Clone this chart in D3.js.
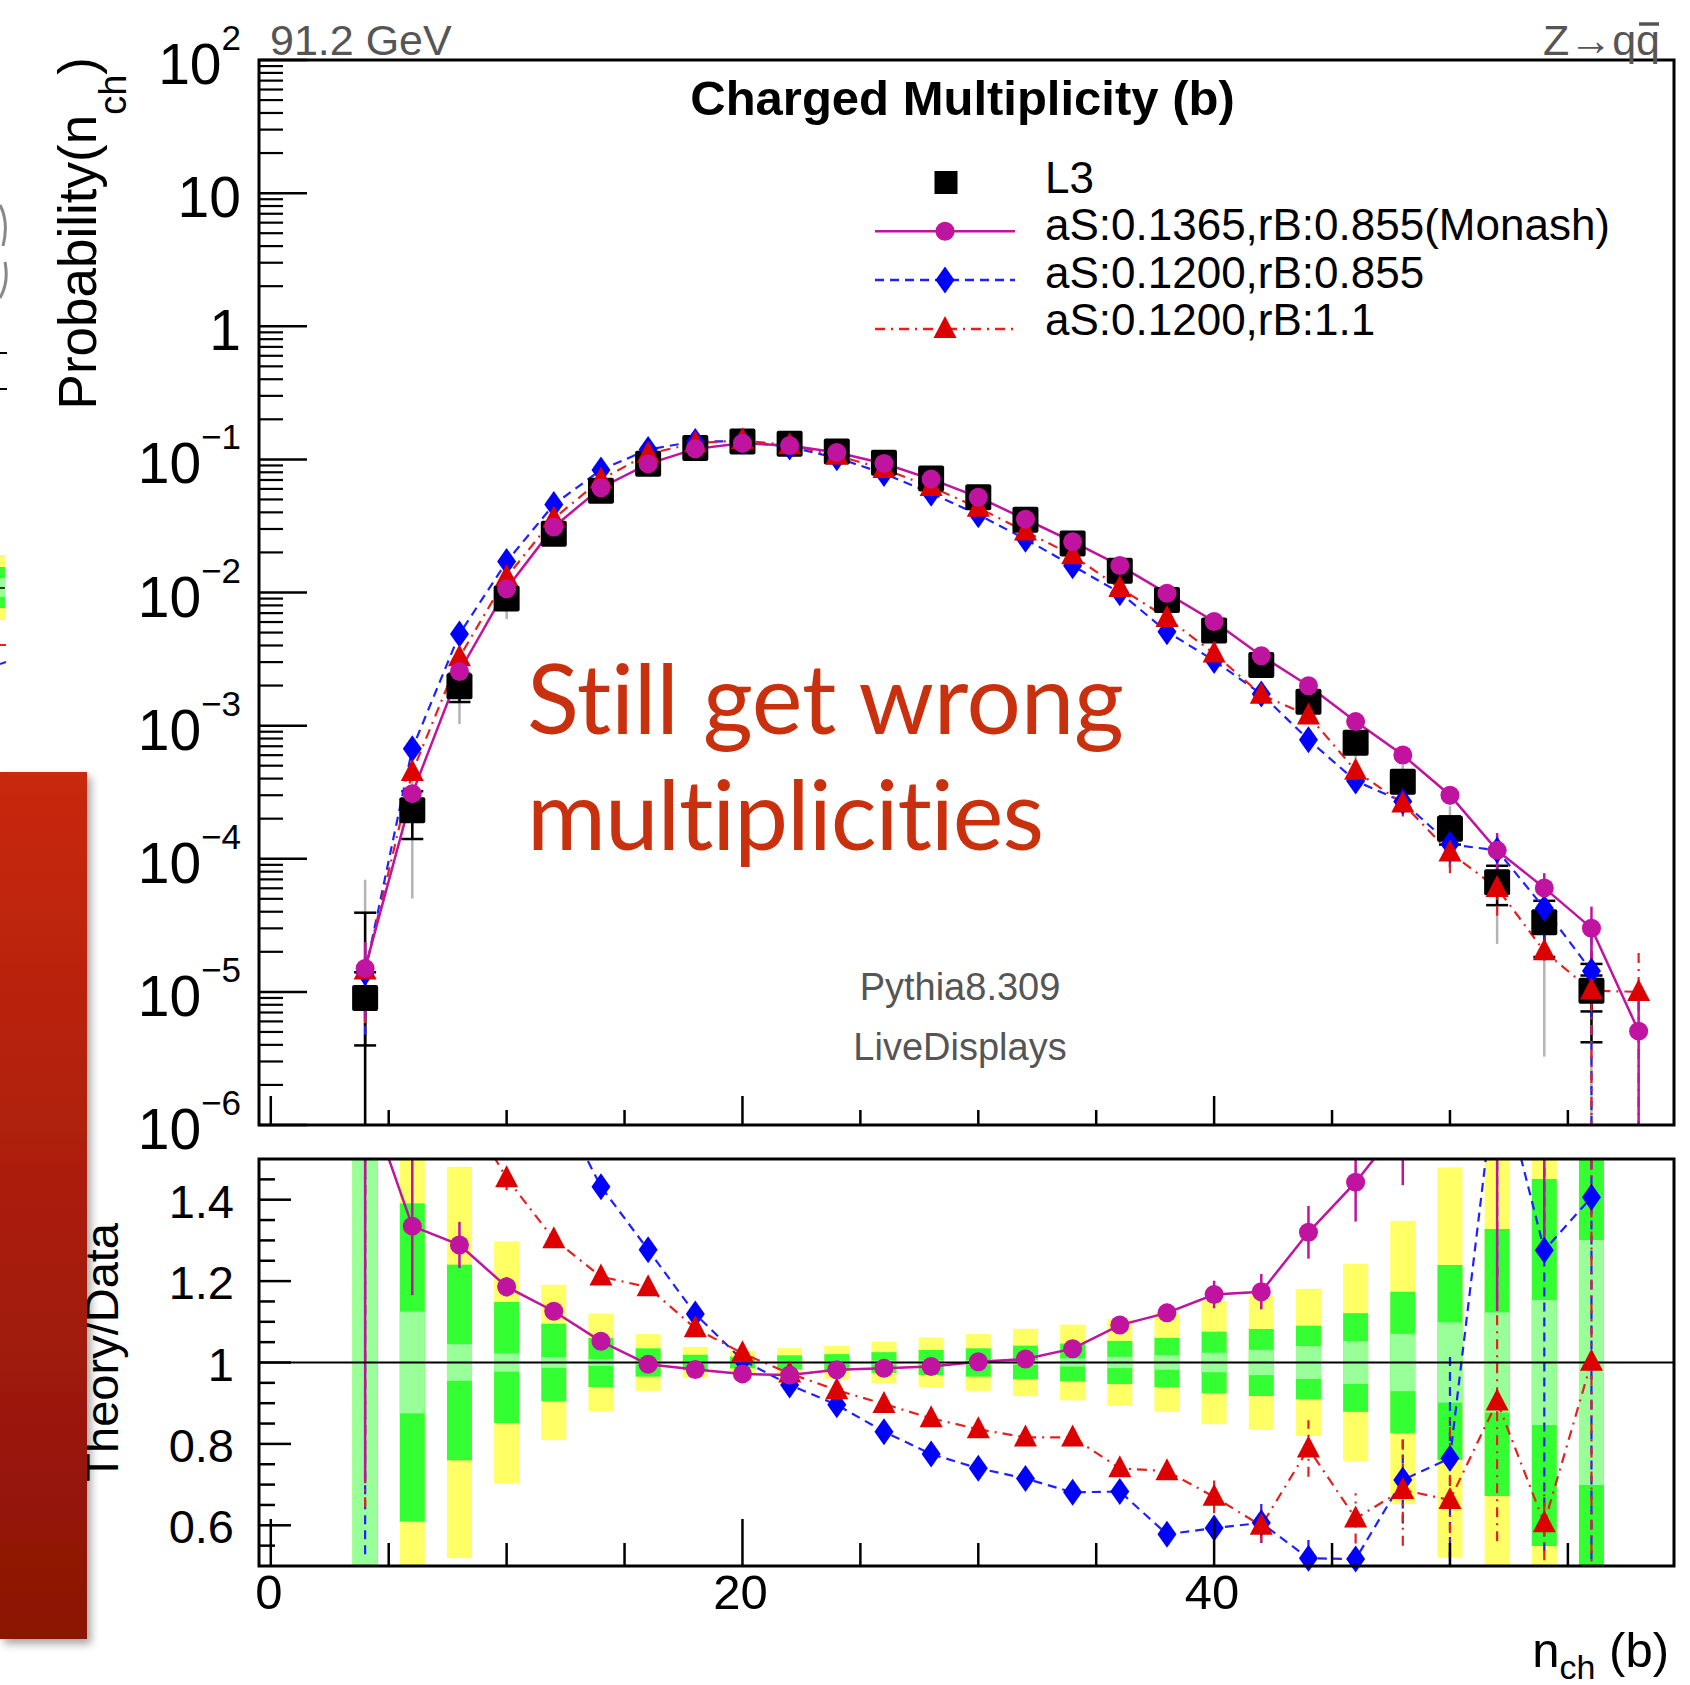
<!DOCTYPE html>
<html><head><meta charset="utf-8">
<script src="https://cdn.jsdelivr.net/npm/d3@7"></script>
<style>body{margin:0;background:#fff;} svg{display:block;font-family:"Liberation Sans",Arial,Helvetica,sans-serif;} .noliga{font-variant-ligatures:none;font-feature-settings:"liga" 0,"clig" 0;}</style>
</head><body>
<svg id="c" width="1690" height="1685"></svg>
<script>
// ---------------- data ----------------
const nch = [4,6,8,10,12,14,16,18,20,22,24,26,28,30,32,34,36,38,40,42,44,46,48,50,52,54,56];
const dataL3 = [9.0e-6,2.31e-4,1.98e-3,9.0e-3,0.0276,0.0582,0.0929,0.122,0.136,0.131,0.1146,0.0944,0.0718,0.0519,0.0352,0.0233,0.01459,0.00879,0.00519,0.00285,0.00151,7.43e-4,3.78e-4,1.68e-4,6.67e-5,3.33e-5,1.02e-5];
const dataStatRel = [0.56,0.125,0.045,0.0225,0.0131,0.0086,0.005,0.004,0.004,0.004,0.004,0.005,0.005,0.005,0.006,0.01,0.014,0.018,0.024,0.031,0.0405,0.0528,0.0704,0.0987,0.123,0.1536,0.301];
const dataTotRel = [3.37,0.391,0.2404,0.1487,0.0954,0.0602,0.0348,0.019,0.0143,0.0176,0.0205,0.0254,0.0307,0.0348,0.0414,0.0465,0.053,0.0606,0.0758,0.0823,0.0905,0.1212,0.174,0.2396,0.328,0.451,0.59];

const nchMC = [4,6,8,10,12,14,16,18,20,22,24,26,28,30,32,34,36,38,40,42,44,46,48,50,52,54,56,58];
const monashMC = [1.50e-5,3.084e-4,2.552e-3,0.010674,0.031078,0.061226,0.092482,0.119926,0.132192,0.126939,0.112537,0.093078,0.071082,0.052004,0.035503,0.024092,0.015932,0.009862,0.006057,0.003346,0.001993,1.0721e-3,6.01e-4,3.0e-4,1.156e-4,6.04e-5,3.01e-5,5.07e-6];
const monashErrRel = [0.577,0.127,0.044,0.02,0.012,0.008,0.005,0.004,0.004,0.004,0.004,0.005,0.005,0.006,0.007,0.009,0.012,0.02,0.029,0.037,0.049,0.067,0.097,0.15,0.35,0.29,0.45,1.0];
const blueMC = [1.4e-5,6.71e-4,4.88e-3,0.01706,0.0458,0.083342,0.118633,0.136518,0.136816,0.123795,0.102682,0.078352,0.055645,0.038406,0.025168,0.015867,0.009965,0.005081,0.003078,0.001727,7.837e-4,3.841e-4,2.688e-4,1.285e-4,1.156e-4,4.249e-5,1.434e-5,null];
const blueErrRel = [0.66,0.1,0.04,0.02,0.012,0.008,0.005,0.004,0.004,0.005,0.005,0.006,0.007,0.008,0.01,0.012,0.015,0.02,0.041,0.082,0.087,0.06,0.15,0.33,0.3,0.58,1.0,null];
const redMC = [1.45e-5,4.48e-4,3.27e-3,0.013073,0.035963,0.07048,0.110087,0.132248,0.13906,0.127463,0.106807,0.084771,0.061963,0.043388,0.028723,0.019013,0.010797,0.006443,0.003477,0.001707,0.001191,4.584e-4,2.597e-4,1.112e-4,6.03e-5,2.015e-5,1.022e-5,1.0e-5];
const redErrRel = [0.6,0.1,0.04,0.02,0.012,0.008,0.005,0.004,0.004,0.005,0.005,0.006,0.007,0.008,0.01,0.012,0.015,0.02,0.06,0.067,0.088,0.1,0.2,0.3,0.38,0.15,1.0,1.0];

const legendLabels = ["L3","aS:0.1365,rB:0.855(Monash)","aS:0.1200,rB:0.855","aS:0.1200,rB:1.1"];
const xMajorTicks = [0,20,40];
const xMinorTicks = [5,10,15,25,30,35,45,50,55];
const yMajorTicksU = [1e-6,1e-5,1e-4,1e-3,1e-2,1e-1,1,10,100];
const ratioMajorTicks = [0.6,0.8,1,1.2,1.4];
const ratioMajorLabels = ["0.6","0.8","1","1.2","1.4"];

// ---------------- layout ----------------
const X0=259, X1=1674, UT=60, UB=1125, LT=1159, LB=1566;
const x = d3.scaleLinear().domain([-0.5,59.5]).range([X0,X1]);
const yU = d3.scaleLog().domain([1e-6,1e2]).range([UB,UT]);
const yL = d3.scaleLinear().domain([0.5,1.5]).range([LB,LT]);
const yUc = v => (v>0 ? yU(Math.max(v,1e-9)) : UB+30);

const svg = d3.select('#c');
const defs = svg.append('defs');
defs.append('clipPath').attr('id','clipU').append('rect').attr('x',X0).attr('y',UT).attr('width',X1-X0).attr('height',UB-UT);
defs.append('clipPath').attr('id','clipL').append('rect').attr('x',X0).attr('y',LT).attr('width',X1-X0).attr('height',LB-LT);
const grad = defs.append('linearGradient').attr('id','redgrad').attr('x1',0).attr('y1',0).attr('x2',0).attr('y2',1);
grad.append('stop').attr('offset','0%').attr('stop-color','#c8290b');
grad.append('stop').attr('offset','100%').attr('stop-color','#8b1306');
const flt = defs.append('filter').attr('id','shadow').attr('x','-30%').attr('y','-10%').attr('width','160%').attr('height','120%');
flt.append('feDropShadow').attr('dx',4).attr('dy',5).attr('stdDeviation',4).attr('flood-color','#000').attr('flood-opacity',0.35);

const series = [
  {name:legendLabels[2], vals:blueMC, errs:blueErrRel, color:'#0000ff', line:'#2020ff', dash:'9,6', marker:'diamond', lw:2.2},
  {name:legendLabels[3], vals:redMC, errs:redErrRel, color:'#dd0000', line:'#e52020', dash:'10,6,2,6', marker:'triangle', lw:2.2},
  {name:legendLabels[1], vals:monashMC, errs:monashErrRel, color:'#c0139f', line:'#c0139f', dash:null, marker:'circle', lw:2.5}
];
function drawMarker(g, type, color, cx, cy){
  if(type==='circle') g.append('circle').attr('cx',cx).attr('cy',cy).attr('r',9.5).attr('fill',color);
  else if(type==='diamond') g.append('path').attr('d','M0,-13.5L9.5,0L0,13.5L-9.5,0Z').attr('transform',`translate(${cx},${cy})`).attr('fill',color);
  else if(type==='triangle') g.append('path').attr('d','M0,-13L11.5,9L-11.5,9Z').attr('transform',`translate(${cx},${cy})`).attr('fill',color);
  else if(type==='square') g.append('rect').attr('x',cx-13).attr('y',cy-13).attr('width',26).attr('height',26).attr('rx',2).attr('fill',color);
}

// ---------------- left-edge remnants of neighbouring slide element ----------------
const rem = svg.append('g');
rem.append('line').attr('x1',0).attr('x2',7).attr('y1',353).attr('y2',353).attr('stroke','#000').attr('stroke-width',2);
rem.append('line').attr('x1',0).attr('x2',7).attr('y1',389).attr('y2',389).attr('stroke','#000').attr('stroke-width',2);
rem.append('path').attr('d','M0,205 Q9,222 3,246 M5,262 Q9,282 0,298').attr('stroke','#888').attr('stroke-width',3).attr('fill','none');
rem.append('rect').attr('x',0).attr('y',555).attr('width',5).attr('height',65).attr('fill','#ffff66');
rem.append('rect').attr('x',0).attr('y',567).attr('width',5).attr('height',41).attr('fill','#33ff33');
rem.append('rect').attr('x',0).attr('y',578).attr('width',5).attr('height',19).attr('fill','#99ff99');
rem.append('line').attr('x1',0).attr('x2',5).attr('y1',588).attr('y2',588).attr('stroke','#000').attr('stroke-width',1.5);
rem.append('line').attr('x1',0).attr('x2',6).attr('y1',645).attr('y2',645).attr('stroke','#e52020').attr('stroke-width',2);
rem.append('line').attr('x1',0).attr('x2',6).attr('y1',664).attr('y2',662).attr('stroke','#2020ff').attr('stroke-width',2);

// ---------------- upper pad ----------------
const dat = nch.map((n,i)=>({n, v:dataL3[i], s:dataStatRel[i], t:dataTotRel[i]}));
const gU = svg.append('g');
const gUc = gU.append('g').attr('clip-path','url(#clipU)');
gUc.selectAll('line.grey').data(dat).join('line').attr('class','grey')
  .attr('x1',d=>x(d.n)).attr('x2',d=>x(d.n))
  .attr('y1',d=>yUc(d.v*(1-2*d.t))).attr('y2',d=>yUc(d.v*(1+2*d.t)))
  .attr('stroke','#b4b4b4').attr('stroke-width',2.5);
function blackBar(rel){
  dat.forEach(d=>{
    const lo=d.v*(1-d[rel]), hi=d.v*(1+d[rel]), cx=x(d.n);
    gUc.append('line').attr('x1',cx).attr('x2',cx).attr('y1',yUc(lo)).attr('y2',yUc(hi)).attr('stroke','#000').attr('stroke-width',2.5);
    [lo,hi].forEach(e=>{ if(e>0) gUc.append('line').attr('x1',cx-11).attr('x2',cx+11).attr('y1',yU(e)).attr('y2',yU(e)).attr('stroke','#000').attr('stroke-width',2.5);});
  });
}
blackBar('t'); blackBar('s');
dat.forEach(d=>drawMarker(gU,'square','#000',x(d.n),yU(d.v)));
series.forEach(s=>{
  const pts = nchMC.map((n,i)=>({n, v:s.vals[i], e:s.errs[i]})).filter(p=>p.v!=null);
  const line = d3.line().x(p=>x(p.n)).y(p=>yU(p.v));
  gUc.append('path').attr('d',line(pts)).attr('fill','none').attr('stroke',s.line).attr('stroke-width',s.lw).attr('stroke-dasharray',s.dash);
  pts.forEach(p=>{
    gUc.append('line').attr('x1',x(p.n)).attr('x2',x(p.n)).attr('y1',yUc(p.v*(1-p.e))).attr('y2',yUc(p.v*(1+p.e)))
      .attr('stroke',s.line).attr('stroke-width',s.lw).attr('stroke-dasharray',s.dash);
  });
});
series.forEach(s=>{
  nchMC.forEach((n,i)=>{ if(s.vals[i]!=null) drawMarker(gU,s.marker,s.color,x(n),yU(s.vals[i])); });
});
gU.append('rect').attr('x',X0).attr('y',UT).attr('width',X1-X0).attr('height',UB-UT).attr('fill','none').attr('stroke','#000').attr('stroke-width',3);
const yMinorU = [];
for(let e=-6;e<2;e++) for(let k=2;k<=9;k++) yMinorU.push(k*Math.pow(10,e));
gU.selectAll('line.ymaj').data(yMajorTicksU).join('line').attr('x1',X0).attr('x2',X0+48).attr('y1',d=>yU(d)).attr('y2',d=>yU(d)).attr('stroke','#000').attr('stroke-width',2.5);
gU.selectAll('line.ymin').data(yMinorU).join('line').attr('x1',X0).attr('x2',X0+24).attr('y1',d=>yU(d)).attr('y2',d=>yU(d)).attr('stroke','#000').attr('stroke-width',2.2);
gU.selectAll('line.xmaj').data(xMajorTicks).join('line').attr('x1',d=>x(d)).attr('x2',d=>x(d)).attr('y1',UB).attr('y2',UB-29).attr('stroke','#000').attr('stroke-width',2.5);
gU.selectAll('line.xmin').data(xMinorTicks).join('line').attr('x1',d=>x(d)).attr('x2',d=>x(d)).attr('y1',UB).attr('y2',UB-15).attr('stroke','#000').attr('stroke-width',2.5);
yMajorTicksU.forEach(v=>{
  const e = Math.round(Math.log10(v));
  const t = gU.append('text').attr('x',241).attr('y',yU(v)+24).attr('text-anchor','end').attr('font-size',57).attr('fill','#000');
  if(e===0) t.text('1');
  else if(e===1) t.text('10');
  else { t.append('tspan').text('10'); t.append('tspan').attr('font-size',35).attr('dy',-34).text(e<0?'\u2212'+(-e):String(e)); }
});
const yt = gU.append('text').attr('transform','translate(96,57) rotate(-90)').attr('text-anchor','end').attr('font-size',53).attr('fill','#000');
yt.append('tspan').text('Probability(n');
yt.append('tspan').attr('font-size',38).attr('dy',30).text('ch');
yt.append('tspan').attr('dy',-30).text(')');
svg.append('text').attr('x',270).attr('y',55).attr('font-size',43).attr('fill','#555').text('91.2 GeV');
const zt = svg.append('text').attr('x',1660).attr('y',55).attr('text-anchor','end').attr('font-size',43).attr('fill','#555').text('Z\u2192qq');
try{ const b=zt.node().getExtentOfChar(3); svg.append('line').attr('x1',b.x+3).attr('x2',b.x+b.width-1).attr('y1',24).attr('y2',24).attr('stroke','#555').attr('stroke-width',3.5);}catch(e){}
svg.append('text').attr('x',(X0+X1)/2-4).attr('y',115).attr('text-anchor','middle').attr('font-size',49).attr('font-weight','bold').attr('fill','#000').text('Charged Multiplicity (b)');
const legSym = ['square','circle','diamond','triangle'];
const legCol = ['#000','#c0139f','#0000ff','#dd0000'];
const legLine = [null,'#c0139f','#2020ff','#e52020'];
const legDash = [null,null,'9,6','10,6,2,6'];
legendLabels.forEach((lab,i)=>{
  const cy = 182.5 + i*48.8;
  if(legLine[i]) svg.append('line').attr('x1',875).attr('x2',1015).attr('y1',cy).attr('y2',cy).attr('stroke',legLine[i]).attr('stroke-width',2.5).attr('stroke-dasharray',legDash[i]);
  if(i===0) svg.append('rect').attr('x',946-11.5).attr('y',cy-11.5).attr('width',23).attr('height',23).attr('fill','#000');
  else drawMarker(svg,legSym[i],legCol[i],945,cy);
  svg.append('text').attr('x',1045).attr('y',193+i*47.3).attr('font-size',44).attr('fill','#000').text(lab);
});
const ann = svg.append('g').attr('class','noliga').attr('font-family','Lato, "Open Sans", sans-serif').attr('fill','#c8300e').attr('font-size',96);
ann.append('text').attr('x',527).attr('y',734).attr('textLength',597).text('Still get wrong');
ann.append('text').attr('x',527).attr('y',850).attr('textLength',517).text('multiplicities');
svg.append('text').attr('x',960).attr('y',1000).attr('text-anchor','middle').attr('font-size',38).attr('fill','#555').text('Pythia8.309');
svg.append('text').attr('x',960).attr('y',1060).attr('text-anchor','middle').attr('font-size',38).attr('fill','#555').text('LiveDisplays');

// ---------------- lower (ratio) pad ----------------
const gL = svg.append('g');
const gLc = gL.append('g').attr('clip-path','url(#clipL)');
const bw = 25;
[['#ffff66',2,'t'],['#33ff33',1,'t'],['#99ff99',1,'s']].forEach(([col,k,key])=>{
  gLc.selectAll(null).data(dat).join('rect')
    .attr('x',d=>x(d.n)-bw/2).attr('width',bw)
    .attr('y',d=>yL(Math.min(1+k*d[key],3))).attr('height',d=>yL(Math.max(1-k*d[key],-1))-yL(Math.min(1+k*d[key],3)))
    .attr('fill',col);
});
gL.append('line').attr('x1',X0).attr('x2',X1).attr('y1',yL(1)).attr('y2',yL(1)).attr('stroke','#000').attr('stroke-width',2);
const ratioSeries = series.map(s=>({s, pts: nchMC.map((n,i)=>{
  const j = nch.indexOf(n);
  if(j<0 || s.vals[i]==null) return null;
  const r = s.vals[i]/dataL3[j];
  return {n, r, e: r*s.errs[i]};
}).filter(Boolean)}));
ratioSeries.forEach(({s,pts})=>{
  const line = d3.line().x(p=>x(p.n)).y(p=>yL(p.r));
  gLc.append('path').attr('d',line(pts)).attr('fill','none').attr('stroke',s.line).attr('stroke-width',s.lw).attr('stroke-dasharray',s.dash);
  pts.forEach(p=>{
    gLc.append('line').attr('x1',x(p.n)).attr('x2',x(p.n)).attr('y1',yL(Math.max(p.r-p.e,-1))).attr('y2',yL(Math.min(p.r+p.e,4)))
      .attr('stroke',s.line).attr('stroke-width',s.lw).attr('stroke-dasharray',s.dash);
  });
});
ratioSeries.forEach(({s,pts})=>{
  pts.forEach(p=>{ if(p.r>=0.5 && p.r<=1.5) drawMarker(gL,s.marker,s.color,x(p.n),yL(p.r)); });
});
gL.append('rect').attr('x',X0).attr('y',LT).attr('width',X1-X0).attr('height',LB-LT).attr('fill','none').attr('stroke','#000').attr('stroke-width',3);
const rMinor = d3.range(11,30).map(k=>k*0.05).filter(v=>!ratioMajorTicks.some(m=>Math.abs(m-v)<1e-6));
gL.selectAll('line.rmaj').data(ratioMajorTicks).join('line').attr('x1',X0).attr('x2',X0+32).attr('y1',d=>yL(d)).attr('y2',d=>yL(d)).attr('stroke','#000').attr('stroke-width',2.5);
gL.selectAll('line.rmin').data(rMinor).join('line').attr('x1',X0).attr('x2',X0+16).attr('y1',d=>yL(d)).attr('y2',d=>yL(d)).attr('stroke','#000').attr('stroke-width',2.5);
gL.selectAll('line.lxmaj').data(xMajorTicks).join('line').attr('x1',d=>x(d)).attr('x2',d=>x(d)).attr('y1',LB).attr('y2',LB-47).attr('stroke','#000').attr('stroke-width',2.5);
gL.selectAll('line.lxmin').data(xMinorTicks).join('line').attr('x1',d=>x(d)).attr('x2',d=>x(d)).attr('y1',LB).attr('y2',LB-23).attr('stroke','#000').attr('stroke-width',2.5);
gL.selectAll('text.rl').data(ratioMajorTicks).join('text').attr('x',234).attr('y',d=>yL(d)+18).attr('text-anchor','end').attr('font-size',47).attr('fill','#000').text((d,i)=>ratioMajorLabels[i]);
gL.selectAll('text.xl').data(xMajorTicks).join('text').attr('x',d=>x(d)-2).attr('y',1609).attr('text-anchor','middle').attr('font-size',49).attr('fill','#000').text(d=>String(d));
const xt = gL.append('text').attr('x',1669).attr('y',1667).attr('text-anchor','end').attr('font-size',49).attr('fill','#000');
xt.append('tspan').text('n');
xt.append('tspan').attr('font-size',34).attr('dy',12).text('ch');
xt.append('tspan').attr('dy',-12).text(' (b)');
gL.append('text').attr('transform','translate(118,1223) rotate(-90)').attr('text-anchor','end').attr('font-size',47).attr('fill','#000').text('Theory/Data');

svg.append('rect').attr('x',0).attr('y',772).attr('width',87).attr('height',867).attr('fill','url(#redgrad)').attr('filter','url(#shadow)');
</script>
</body></html>
